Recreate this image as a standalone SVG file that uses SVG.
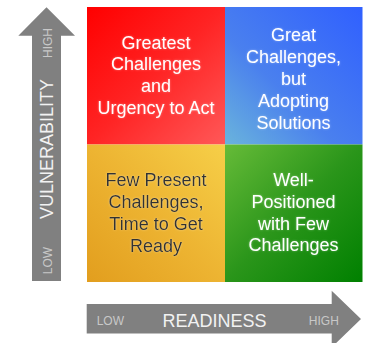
<svg xmlns="http://www.w3.org/2000/svg" width="367" height="343" viewBox="0 0 367 343">
<style>
.q{font-family:"Liberation Sans",Arial,sans-serif;font-size:18px;text-anchor:middle}
.w{fill:#ffffff}
.d{fill:#333333}
.arrow{fill:#808080}
.ax{font-family:"Liberation Sans",Arial,sans-serif;text-anchor:middle}
.big{font-size:18px;fill:#f2f2f2}
.small{font-size:12px;fill:#c8c8c8}
</style>
<defs>
<linearGradient id="gr" x1="0" y1="0" x2="1" y2="1"><stop offset="0" stop-color="#ff0000"/><stop offset="0.5" stop-color="#ff2424"/><stop offset="1" stop-color="#ff5858"/></linearGradient>
<linearGradient id="gb" x1="1" y1="0" x2="0" y2="1"><stop offset="0" stop-color="#3060ff"/><stop offset="0.6" stop-color="#4a80ee"/><stop offset="1" stop-color="#6ab4dc"/></linearGradient>
<linearGradient id="gy" x1="1" y1="0" x2="0" y2="1"><stop offset="0" stop-color="#f6cf48"/><stop offset="0.5" stop-color="#edb432"/><stop offset="1" stop-color="#e29e1e"/></linearGradient>
<linearGradient id="gg" x1="0" y1="0" x2="1" y2="1"><stop offset="0" stop-color="#66bb38"/><stop offset="0.5" stop-color="#2a951a"/><stop offset="1" stop-color="#008000"/></linearGradient>
<filter id="glow" x="-20%" y="-20%" width="140%" height="140%"><feGaussianBlur in="SourceAlpha" stdDeviation="1.2" result="b"/><feFlood flood-color="#ffffff" flood-opacity="0.35"/><feComposite in2="b" operator="in" result="g"/><feMerge><feMergeNode in="g"/><feMergeNode in="SourceGraphic"/></feMerge></filter>
</defs>
<g id="quad-red">
<rect x="87" y="7" width="138" height="137.5" fill="url(#gr)"/>
<text class="q w" filter="url(#glow)"><tspan x="156" y="48.5">Greatest</tspan><tspan x="156" y="70.3">Challenges</tspan><tspan x="156" y="92">and</tspan><tspan x="156" y="113.8">Urgency to Act</tspan></text>
</g>
<g id="quad-blue">
<rect x="225" y="7" width="137.5" height="137.5" fill="url(#gb)"/>
<text class="q w" filter="url(#glow)"><tspan x="293.5" y="41">Great</tspan><tspan x="293.5" y="63">Challenges,</tspan><tspan x="293.5" y="85">but</tspan><tspan x="293.5" y="107">Adopting</tspan><tspan x="293.5" y="129">Solutions</tspan></text>
</g>
<g id="quad-yellow">
<rect x="87" y="144.5" width="138" height="137.5" fill="url(#gy)"/>
<text class="q d" filter="url(#glow)"><tspan x="156" y="186.3">Few Present</tspan><tspan x="156" y="208">Challenges,</tspan><tspan x="156" y="229.7">Time to Get</tspan><tspan x="156" y="252">Ready</tspan></text>
</g>
<g id="quad-green">
<rect x="225" y="144.5" width="137.5" height="137.5" fill="url(#gg)"/>
<text class="q w" filter="url(#glow)"><tspan x="293.5" y="186.3">Well-</tspan><tspan x="293.5" y="208">Positioned</tspan><tspan x="293.5" y="229.7">with Few</tspan><tspan x="293.5" y="251.3">Challenges</tspan></text>
</g>
<g id="connectors">
<g id="axis-vulnerability">
<polygon class="arrow" points="32,281 61,281 61,35.7 75,35.7 46.5,7.3 18.3,35.7 32,35.7"/>
<text class="ax big" transform="translate(53.3,149) rotate(-90)" x="0" y="0">VULNERABILITY</text>
<text class="ax small" transform="translate(52,43) rotate(-90)" x="0" y="0">HIGH</text>
<text class="ax small" transform="translate(52,260.5) rotate(-90)" x="0" y="0">LOW</text>
</g>
<g id="axis-readiness">
<polygon class="arrow" points="86.7,304 331.7,304 331.7,290.7 361,319 331.7,347.3 331.7,333.5 86.7,333.5"/>
<text class="ax big" x="214.5" y="326.5">READINESS</text>
<text class="ax small" x="110.3" y="325">LOW</text>
<text class="ax small" x="323.8" y="325">HIGH</text>
</g>
</g>
</svg>
